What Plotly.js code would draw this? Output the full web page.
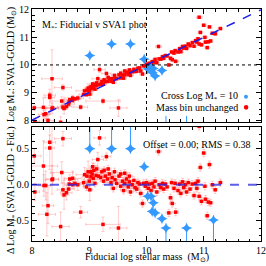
<!DOCTYPE html>
<html><head><meta charset="utf-8">
<script src="https://cdn.plot.ly/plotly-3.0.1.min.js"></script>
<style>html,body{margin:0;padding:0;background:#fff}#c{width:266px;height:266px}</style>
</head><body><div id="c"></div>
<script>
// Red points: fiducial log mass, delta (SVA1-GOLD - Fid), x error, y error
const redFid = [8.05,8.04,8.20,8.21,8.24,8.28,8.26,8.31,8.31,8.35,8.54,8.36,8.50,8.52,8.54,8.56,8.60,8.64,8.65,8.66,
  8.71,8.71,8.75,8.80,8.85,8.92,8.96,8.98,8.90,8.95,9.01,9.00,9.03,9.05,9.07,9.08,9.10,9.12,9.15,9.18,
  9.30,9.24,9.20,9.22,9.25,9.28,9.32,9.35,9.38,9.40,9.42,9.45,9.48,9.51,9.52,9.55,9.58,9.60,9.62,9.65,
  9.68,9.70,9.72,9.75,9.78,9.80,9.83,9.85,9.88,9.90,9.93,9.95,9.98,10.00,10.03,10.05,10.08,10.10,10.13,10.15,
  10.18,10.21,10.22,10.25,10.28,10.30,10.33,10.36,10.39,10.42,10.45,10.44,10.48,10.51,10.50,10.55,10.58,10.60,10.63,10.65,
  10.68,10.70,10.73,10.76,10.80,10.83,10.86,10.88,10.92,10.94,10.96,11.00,11.03,11.06,11.10,11.08,11.12,11.15,11.20,11.29,
  11.02,10.90,10.92,8.35,9.02,9.06,9.13,9.16,9.26,9.33,9.44,9.55,9.62,9.70];
const redDelta = [-0.10,0.40,0.26,-0.01,-0.01,-0.29,-0.41,0.59,0.51,0.07,0.64,0.08,-0.58,0.17,-0.07,-0.14,-0.11,-0.06,0.01,0.08,
  0.09,0.00,0.02,0.00,-0.38,0.14,0.12,0.18,0.03,-0.03,-0.07,0.05,0.11,0.15,0.09,0.20,0.02,0.13,0.35,0.65,
  0.39,-0.55,0.10,0.18,0.05,0.12,0.08,0.15,0.03,0.10,-0.05,0.07,0.02,-1.07,0.12,-0.02,0.05,-0.08,0.02,0.08,
  -0.03,0.04,-0.10,0.00,0.06,-0.04,-0.06,0.03,0.01,-0.12,-0.26,0.02,-0.02,0.03,-0.05,0.01,-0.08,0.02,-0.03,0.05,
  -0.10,0.46,0.00,-0.04,0.02,-0.06,0.01,-0.03,-0.39,-0.18,-0.26,0.03,-0.05,-0.38,0.02,-0.08,0.01,-0.12,0.04,-0.04,
  0.00,-0.10,0.03,-0.06,0.01,-0.15,0.02,-0.05,-0.16,0.24,-0.23,0.44,-0.20,-0.43,0.28,-0.24,-0.25,0.00,-0.07,0.03,
  -0.02,0.05,0.81,1.15,0.18,0.25,0.22,0.12,0.20,0.22,0.18,0.15,0.16,0.12];
const redXErr = [0.08,0.12,0.25,0.10,0.08,0.10,0.15,0.10,0.08,0.12,0.15,0.10,0.15,0.20,0.10,0.05,0.10,0.10,0.08,0.10,
  0.15,0.10,0.10,0.10,0.12,0.15,0.08,0.05,0.08,0.05,0.05,0.06,0.05,0.05,0.08,0.06,0.05,0.05,0.10,0.10,
  0.08,0.30,0.05,0.05,0.05,0.05,0.05,0.05,0.05,0.05,0.05,0.05,0.05,0.15,0.05,0.05,0.05,0.05,0.05,0.05,
  0.05,0.05,0.05,0.05,0.05,0.05,0.05,0.04,0.04,0.04,0.05,0.04,0.04,0.04,0.04,0.04,0.04,0.04,0.04,0.04,
  0.04,0.05,0.04,0.04,0.04,0.04,0.04,0.04,0.05,0.04,0.05,0.04,0.04,0.05,0.04,0.04,0.04,0.04,0.04,0.04,
  0.04,0.04,0.04,0.04,0.04,0.04,0.04,0.04,0.04,0.04,0.04,0.04,0.04,0.04,0.04,0.04,0.04,0.04,0.04,0.04,
  0.04,0.04,0.05,0.18,0.05,0.05,0.05,0.05,0.05,0.05,0.05,0.05,0.05,0.05];
const redYErr = [0.12,0.10,0.35,0.15,0.20,0.25,0.30,0.10,0.30,0.20,0.10,0.08,0.20,0.15,0.10,0.20,0.10,0.08,0.05,0.06,
  0.10,0.05,0.05,0.08,0.08,0.10,0.10,0.15,0.05,0.05,0.15,0.08,0.10,0.08,0.05,0.10,0.05,0.06,0.10,0.10,
  0.05,0.10,0.05,0.05,0.05,0.05,0.05,0.05,0.05,0.05,0.05,0.05,0.05,0.30,0.05,0.05,0.05,0.05,0.05,0.05,
  0.05,0.05,0.05,0.05,0.05,0.05,0.05,0.05,0.05,0.05,0.05,0.05,0.05,0.05,0.05,0.05,0.05,0.05,0.05,0.05,
  0.05,0.05,0.05,0.05,0.05,0.05,0.05,0.05,0.05,0.05,0.05,0.05,0.05,0.05,0.05,0.05,0.05,0.05,0.05,0.05,
  0.05,0.05,0.05,0.05,0.05,0.05,0.05,0.05,0.05,0.05,0.05,0.05,0.05,0.05,0.05,0.05,0.05,0.05,0.05,0.05,
  0.05,0.05,0.05,1.05,0.05,0.05,0.05,0.05,0.05,0.05,0.05,0.05,0.05,0.05];

// Blue points (cross log M = 10): top panel and bottom panel values as drawn
const blueFid   = [9.01,9.39,9.72,9.96,10.02,10.08,10.12,10.10,10.15,10.27,10.34,10.70,11.17];
const blueGold  = [10.34,10.76,10.76,10.21,9.86,9.92,9.87,9.73,9.60,9.80,7.60,7.60,null];
const blueDelta = [0.50,0.50,0.50,0.25,-0.16,-0.16,-0.25,-0.37,-0.39,-0.47,-0.60,-0.60,-0.49];
const blueXErr  = [0.08,0.08,0.08,0.06,0.06,0.06,0.06,0.06,0.06,0.06,0.08,0.08,0.06];

const xTicks = [8,9,10,11,12];
const topTicks = [8,9,10,11,12];
const botTicks = [-0.5,0.0,0.5];

const redGold = redFid.map((f,i)=>f+redDelta[i]);
const redDisp = redDelta.map(d=>Math.max(d,-0.6));
const redDispMinus = redDelta.map((d,i)=> d < -0.6 ? 1.0 : redYErr[i]);
const blueUp = blueDelta.map(d=> d>=0.5 ? 1.0 : 0.03);
const blueDown = blueDelta.map((d,i)=> d<=-0.6 || i===blueDelta.length-1 ? 1.0 : 0.03);
const blueTopUp = blueGold.map(g=> g!==null && g<8 ? 0.55 : 0.03);

const red='#ff0000', pink='rgba(255,90,90,0.3)', blue='#3399ff', lblue='rgba(51,153,255,0.5)';
const serif='Liberation Serif, Times New Roman, serif';

const traces = [
 {x:redFid,y:redGold,xaxis:'x',yaxis:'y',mode:'markers',type:'scatter',
  marker:{symbol:'square',size:3.5,color:red},
  error_x:{type:'data',array:redXErr,color:pink,thickness:1,width:1.5},
  error_y:{type:'data',array:redYErr,color:pink,thickness:1,width:1.5}},
 {x:blueFid,y:blueGold,xaxis:'x',yaxis:'y',mode:'markers',type:'scatter',
  marker:{symbol:'star-diamond',size:8,color:blue},
  error_x:{type:'data',array:blueXErr,color:lblue,thickness:1.2,width:0},
  error_y:{type:'data',symmetric:false,array:blueTopUp,arrayminus:blueGold.map(()=>0.03),color:blue,thickness:1,width:0}},
 {x:redFid,y:redDisp,xaxis:'x2',yaxis:'y2',mode:'markers',type:'scatter',
  marker:{symbol:'square',size:3.5,color:red},
  error_x:{type:'data',array:redXErr,color:pink,thickness:1,width:1.5},
  error_y:{type:'data',symmetric:false,array:redYErr,arrayminus:redDispMinus,color:pink,thickness:1,width:1.5}},
 {x:blueFid,y:blueDelta,xaxis:'x2',yaxis:'y2',mode:'markers',type:'scatter',
  marker:{symbol:'star-diamond',size:8,color:blue},
  error_x:{type:'data',array:blueXErr,color:lblue,thickness:1.2,width:0},
  error_y:{type:'data',symmetric:false,array:blueUp,arrayminus:blueDown,color:blue,thickness:1,width:0}}
];

const axBase = {showline:true,linecolor:'#000',linewidth:1,mirror:'allticks',ticks:'inside',ticklen:5,tickcolor:'#000',
  zeroline:false,showgrid:false,tickfont:{family:serif,size:10,color:'#000'}};

const layout = {
 width:266,height:266,margin:{l:32,r:5,t:9,b:25},paper_bgcolor:'#fff',plot_bgcolor:'#fff',showlegend:false,
 font:{family:serif,size:10,color:'#000'},
 xaxis:Object.assign({},axBase,{domain:[0,1],range:[8,12],anchor:'y',tickvals:xTicks,showticklabels:false,
   minor:{ticks:'inside',ticklen:2.5,dtick:0.2,tickcolor:'#000'}}),
 yaxis:Object.assign({},axBase,{domain:[0.513,1],range:[7.93,12.03],anchor:'x',tickvals:topTicks,
   minor:{ticks:'inside',ticklen:2.5,dtick:0.2,tickcolor:'#000'}}),
 xaxis2:Object.assign({},axBase,{domain:[0,1],range:[8,12],anchor:'y2',tickvals:xTicks,
   minor:{ticks:'inside',ticklen:2.5,dtick:0.2,tickcolor:'#000'}}),
 yaxis2:Object.assign({},axBase,{domain:[0,0.491],range:[-0.78,0.8],anchor:'x2',tickvals:botTicks,tickformat:'.1f',
   minor:{ticks:'inside',ticklen:2.5,dtick:0.1,tickcolor:'#000'}}),
 shapes:[
  {type:'line',xref:'x',yref:'y',x0:8,x1:12,y0:8,y1:12,line:{color:'#1a1aee',width:1.5,dash:'dash'}},
  {type:'line',xref:'x',yref:'y domain',x0:10,x1:10,y0:0,y1:1,line:{color:'#000',width:1,dash:'dot'}},
  {type:'line',xref:'x domain',yref:'y',x0:0,x1:1,y0:10,y1:10,line:{color:'#000',width:1,dash:'dot'}},
  {type:'line',xref:'x2 domain',yref:'y2',x0:0,x1:1,y0:0,y1:0,line:{color:'rgba(40,40,230,0.75)',width:2,dash:'dash'}},
  {type:'circle',xref:'paper',yref:'paper',x0:0.926,x1:0.943,y0:0.613,y1:0.630,fillcolor:blue,line:{width:0}},
  {type:'circle',xref:'paper',yref:'paper',x0:0.925,x1:0.945,y0:0.566,y1:0.586,fillcolor:red,line:{width:0}}
 ],
 annotations:[
  {text:'M<sub>*</sub>: Fiducial v SVA1 phot',xref:'paper',yref:'paper',x:0.275,y:0.928,xanchor:'center',yanchor:'middle',showarrow:false,font:{size:10}},
  {text:'Cross Log M<sub>*</sub> = 10',xref:'paper',yref:'paper',x:0.91,y:0.624,xanchor:'right',yanchor:'middle',showarrow:false,font:{size:10}},
  {text:'Mass bin unchanged',xref:'paper',yref:'paper',x:0.91,y:0.576,xanchor:'right',yanchor:'middle',showarrow:false,font:{size:10}},
  {text:'Offset = 0.00; RMS = 0.38',xref:'paper',yref:'paper',x:0.72,y:0.415,xanchor:'center',yanchor:'middle',showarrow:false,font:{size:10}},
  {text:'Fiducial log stellar mass  (M<sub>⊙</sub>)',xref:'paper',yref:'paper',x:0.502,y:-0.106,xanchor:'center',yanchor:'bottom',showarrow:false,font:{size:10}},
  {text:'Log M<sub>*</sub>: SVA1-GOLD (M<sub>⊙</sub>)',xref:'paper',yref:'paper',x:-0.087,y:0.759,xanchor:'center',yanchor:'middle',textangle:-90,showarrow:false,font:{size:10}},
  {text:'Δ Log M<sub>*</sub> (SVA1-GOLD - Fid.)',xref:'paper',yref:'paper',x:-0.087,y:0.22,xanchor:'center',yanchor:'middle',textangle:-90,showarrow:false,font:{size:10}}
 ]
};
Plotly.newPlot('c',traces,layout,{staticPlot:true,displayModeBar:false});
</script></body></html>
